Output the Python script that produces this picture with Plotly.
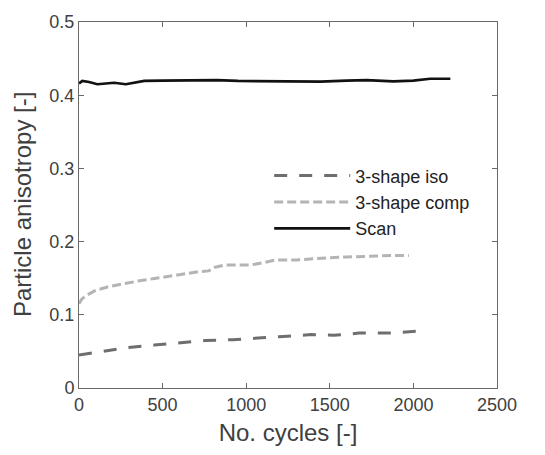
import plotly.graph_objects as go

# Scan series
scan_x = [0, 20, 60, 110, 160, 210, 280, 340, 390, 500, 650, 825, 950, 1125, 1300, 1445, 1600, 1720, 1880, 2000, 2100, 2221]
scan_y = [0.416, 0.4195, 0.418, 0.4150, 0.416, 0.417, 0.4150, 0.417, 0.4195, 0.420, 0.420, 0.4206, 0.4195, 0.419, 0.4192, 0.4185, 0.420, 0.4206, 0.419, 0.420, 0.4225, 0.4225]

# 3-shape comp series
comp_x = [0, 15, 40, 96, 170, 259, 350, 450, 550, 642, 720, 776, 814, 872, 950, 1025, 1100, 1178, 1300, 1408, 1500, 1600, 1700, 1791, 1880, 1973]
comp_y = [0.115, 0.121, 0.126, 0.133, 0.138, 0.142, 0.146, 0.1495, 0.153, 0.157, 0.159, 0.160, 0.165, 0.168, 0.168, 0.168, 0.171, 0.175, 0.175, 0.177, 0.178, 0.179, 0.180, 0.181, 0.181, 0.181]

# 3-shape iso series
iso_x = [0, 125, 297, 450, 623, 757, 920, 1063, 1197, 1389, 1523, 1676, 1849, 2059]
iso_y = [0.045, 0.0495, 0.0554, 0.0586, 0.0617, 0.065, 0.066, 0.0685, 0.070, 0.073, 0.072, 0.075, 0.075, 0.078]

x_ticks = [0, 500, 1000, 1500, 2000, 2500]
y_ticks = [0, 0.1, 0.2, 0.3, 0.4, 0.5]
y_tick_labels = ["0", "0.1", "0.2", "0.3", "0.4", "0.5"]

FONT = "Liberation Sans, Arial"
TXT = "#404040"

fig = go.Figure()
fig.add_trace(go.Scatter(x=iso_x, y=iso_y, mode="lines", name="3-shape iso",
                         line=dict(color="#6e6e6e", width=3, dash="13px,12px")))
fig.add_trace(go.Scatter(x=comp_x, y=comp_y, mode="lines", name="3-shape comp",
                         line=dict(color="#b4b4b4", width=3, dash="9px,4px")))
fig.add_trace(go.Scatter(x=scan_x, y=scan_y, mode="lines", name="Scan",
                         line=dict(color="#111111", width=2.7)))

axis_common = dict(showgrid=False, zeroline=False, showline=True, linecolor="#6a6a6a",
                   linewidth=1, mirror="ticks", ticks="inside", ticklen=5,
                   tickcolor="#6a6a6a", tickfont=dict(family=FONT, size=18, color=TXT))

fig.update_layout(
    width=545, height=455,
    margin=dict(l=79, r=48, t=19, b=67),
    paper_bgcolor="white", plot_bgcolor="white",
    font=dict(family=FONT, color=TXT),
    xaxis=dict(range=[0, 2500], tickvals=x_ticks,
               title=dict(text="No. cycles [-]", font=dict(size=24, color=TXT), standoff=10),
               **axis_common),
    yaxis=dict(range=[0, 0.5], tickvals=y_ticks, ticktext=y_tick_labels, **axis_common),
    legend=dict(x=0.455, y=0.63, xanchor="left", yanchor="top", bgcolor="rgba(0,0,0,0)",
                font=dict(size=18, color="#222222"), itemwidth=76, tracegroupgap=0),
    showlegend=True,
)

fig.add_annotation(text="Particle anisotropy [-]", xref="paper", yref="paper",
                   x=0, y=0.5, xanchor="center", yanchor="middle", xshift=-57,
                   textangle=-90, showarrow=False, font=dict(size=24, color=TXT, family=FONT))

fig.write_html("out.html")
